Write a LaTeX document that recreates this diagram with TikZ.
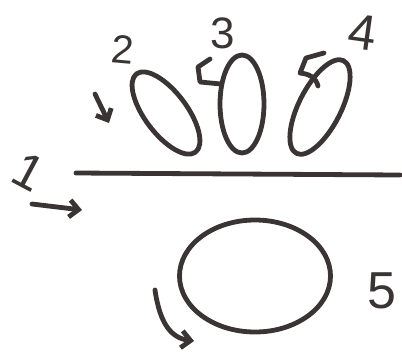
\documentclass[tikz,border=0pt]{standalone}
\usepackage{fontspec}
\setmainfont{Liberation Sans}
\usetikzlibrary{shapes.geometric,arrows.meta}
\definecolor{ink}{HTML}{3A3434}
\tikzset{
  pen/.style={draw=ink, line width=4.8pt, line cap=round, line join=round},
  seed/.style={pen, ellipse, inner sep=0pt},
  lbl/.style={text=ink, inner sep=0pt},
  tip/.style={-{Straight Barb[length=9pt,width=17pt,line width=4.8pt]}}
}
\begin{document}
\begin{tikzpicture}[x=1pt,y=-1pt]
\useasboundingbox (0,0) rectangle (402,360);
% seeds above the line
\node[seed, minimum width=42pt, minimum height=98pt, rotate=37] (e2) at (166,113) {};
\node[seed, minimum width=44pt, minimum height=98pt] (e3) at (242,104) {};
\node[seed, minimum width=42pt, minimum height=104pt, rotate=-27] (e4) at (320,107) {};
% ground line
\coordinate (L) at (76,173);
\coordinate (R) at (400,175);
\draw[pen] (L) -- (R);
% circle below
\node[seed, minimum width=151pt, minimum height=112pt] (c5) at (255,276) {};
% labels
\node[lbl, font=\fontsize{40}{40}\selectfont, rotate=-5] (n2) at (123,50) {2};
\node[lbl, font=\fontsize{44}{44}\selectfont] (n3) at (223,33) {3};
\node[lbl, font=\fontsize{50}{50}\selectfont, rotate=-8] (n4) at (363,32) {4};
\node[lbl, font=\fontsize{52}{52}\selectfont] (n5) at (382,291) {5};
\node[lbl, font=\fontsize{50}{50}\selectfont, rotate=-28] (n1) at (29,172) {1};
% arrows
\coordinate (a1s) at (32,204);
\coordinate (a1e) at (82,210);
\draw[pen, tip] (a1s) -- (a1e);
\coordinate (a2s) at (95,94);
\coordinate (a2e) at (109,123);
\draw[pen, tip] (a2s) -- (a2e);
\coordinate (a5s) at (155,290);
\coordinate (a5e) at (194,341);
\draw[pen, tip] (a5s) .. controls (160,325) and (172,338) .. (a5e);
% small hooks at the seed tips
\coordinate (h3a) at (210,59);
\coordinate (h3b) at (221,84);
\draw[pen] (h3a) -- (198,67) -- (200,82) -- (h3b);
\coordinate (h4a) at (324,53);
\coordinate (h4b) at (318,86);
\draw[pen] (h4a) -- (306,58) -- (300,73) .. controls (310,74) and (316,78) .. (h4b);
\end{tikzpicture}
\end{document}
